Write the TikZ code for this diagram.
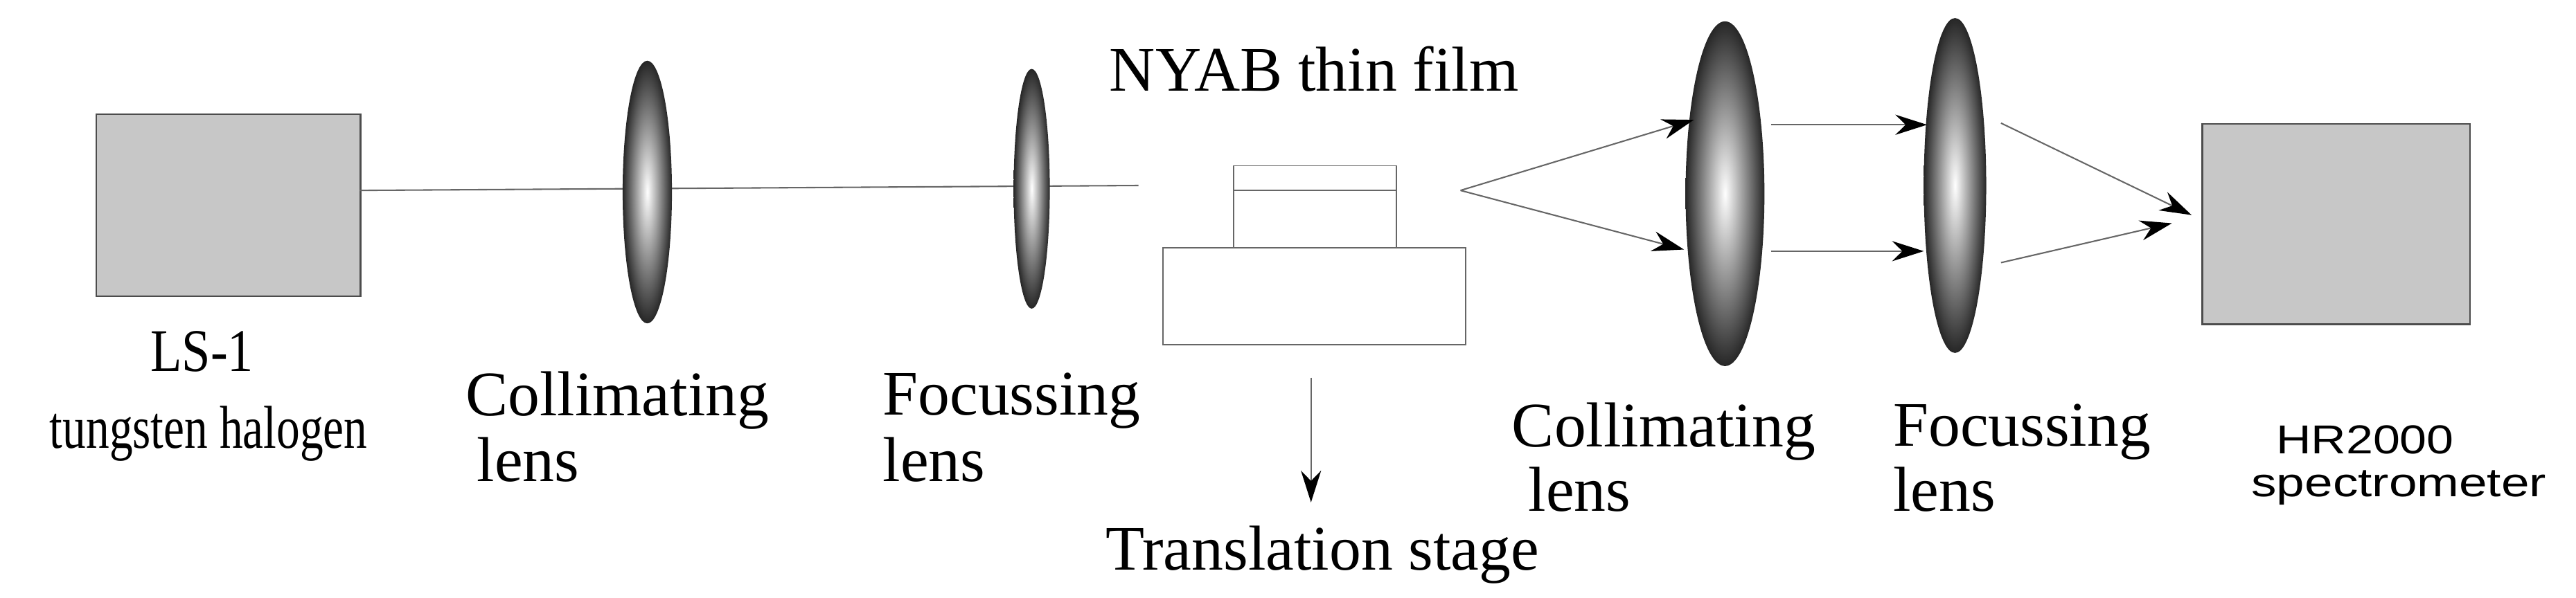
\documentclass[tikz,border=0pt]{standalone}
\usepackage{fontspec}
\setmainfont{Liberation Serif}
\newfontfamily\sansf{Liberation Sans}
\usetikzlibrary{arrows.meta}
\begin{document}
\begin{tikzpicture}[x=0.02cm,y=-0.02cm,
  box/.style={draw=black!70,fill=black!22,line width=0.6pt},
  lens/.style={draw=none,inner color=white,outer color=black!85},
  lbl/.style={font=\fontsize{22}{26}\selectfont,anchor=west,inner sep=0},
  ray/.style={draw=black!60,line width=0.5pt},
  arr/.style={ray,-{Stealth[length=11pt,width=7pt,black]}}]
\useasboundingbox (0,0) rectangle (1568,364);
\node[box,minimum width=3.22cm,minimum height=2.22cm,anchor=north west] (ls) at (58,69) {};
\node[box,minimum width=3.26cm,minimum height=2.44cm,anchor=north west] (hr) at (1340,75) {};
\coordinate (b0) at (219,116);
\coordinate (b1) at (693,113);
\draw[ray] (b0) -- (b1);
\shade[lens] (394,117) ellipse [x radius=15,y radius=80];
\shade[lens] (628,115) ellipse [x radius=11,y radius=73];
\shade[lens] (1050,118) ellipse [x radius=24,y radius=105];
\shade[lens] (1190,113) ellipse [x radius=19,y radius=102];
% film and stage
\draw[black!60] (751,101) rectangle (850,151);
\draw[black!60] (751,116) -- (850,116);
\draw[black!60] (708,151) rectangle (892,210);
\coordinate (s0) at (798,230); \coordinate (s1) at (798,306);
\draw[arr] (s0) -- (s1);
\coordinate (f) at (889,116);
\coordinate (a1) at (1031,73); \coordinate (a2) at (1025,152);
\draw[arr] (f) -- (a1); \draw[arr] (f) -- (a2);
\coordinate (c1) at (1078,76); \coordinate (c2) at (1173,76);
\coordinate (c3) at (1078,153); \coordinate (c4) at (1171,153);
\draw[arr] (c1) -- (c2); \draw[arr] (c3) -- (c4);
\coordinate (d1) at (1218,75); \coordinate (d2) at (1334,131);
\coordinate (d3) at (1218,160); \coordinate (d4) at (1322,136);
\draw[arr] (d1) -- (d2); \draw[arr] (d3) -- (d4);
% labels
\node[font=\fontsize{21}{24}\selectfont,xscale=0.85,inner sep=0] (t1) at (123,214) {LS-1};
\node[font=\fontsize{21}{24}\selectfont,xscale=0.77,inner sep=0] (t2) at (127,264) {tungsten halogen};
\node[lbl] (t3) at (283,244) {Collimating};
\node[lbl] (t4) at (290,280) {lens};
\node[lbl] (t5) at (537,244) {Focussing};
\node[lbl] (t6) at (537,280) {lens};
\node[lbl] (t7) at (675,42) {NYAB thin film};
\node[font=\fontsize{22}{26}\selectfont,inner sep=0] (t8) at (805,338) {Translation stage};
\node[lbl] (t9) at (920,263) {Collimating};
\node[lbl] (t10) at (930,298) {lens};
\node[lbl] (t11) at (1152,263) {Focussing};
\node[lbl] (t12) at (1152,298) {lens};
\node[lbl,font=\sansf\fontsize{14}{16}\selectfont,xscale=1.2] (t13) at (1385,268) {HR2000};
\node[lbl,font=\sansf\fontsize{14}{16}\selectfont,xscale=1.25] (t14) at (1370,297) {spectrometer};
\end{tikzpicture}
\end{document}
